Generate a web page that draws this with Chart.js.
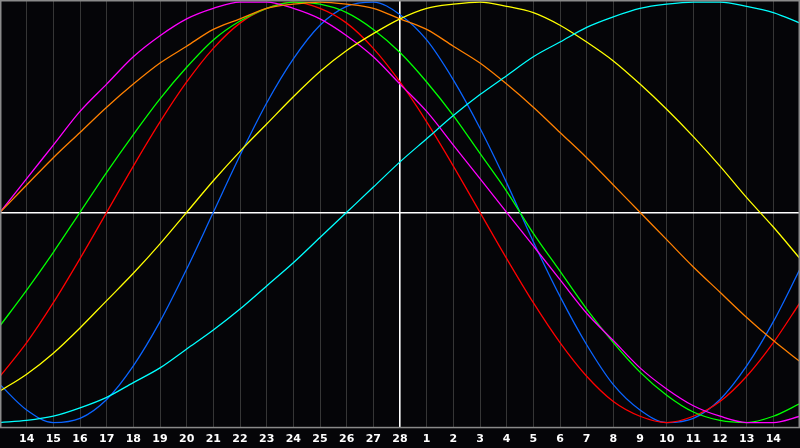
<!DOCTYPE html>
<html lang="pt-BR">
<head>
    <meta charset="UTF-8">
    <title>Biorritmo</title>
    <script src="https://cdn.jsdelivr.net/npm/chart.js"></script>
    <style>
        body {
            margin: 0;
            padding: 0;
            background: #050508;
        }

        .grafico-container {
            width: 800px;
            height: 448px;
        }
    </style>
</head>
<body>
    <div class="grafico-container">
        <canvas id="grafico"></canvas>
    </div>

    <script>
        // dias no eixo X (o primeiro e o último ficam sem rótulo)
        const dias = ['13', '14', '15', '16', '17', '18', '19', '20', '21', '22', '23', '24', '25', '26', '27', '28',
                      '1', '2', '3', '4', '5', '6', '7', '8', '9', '10', '11', '12', '13', '14', '15'];
        const indiceHoje = 15;

        const fisico = [-0.82, -0.94, -1.00, -0.98, -0.89, -0.73, -0.52, -0.27, 0.00, 0.27, 0.52, 0.73, 0.89, 0.98, 1.00, 0.94,
                        0.82, 0.63, 0.40, 0.14, -0.14, -0.40, -0.63, -0.82, -0.94, -1.00, -0.98, -0.89, -0.73, -0.52, -0.27];
        const emocional = [-0.78, -0.62, -0.43, -0.22, 0.00, 0.22, 0.43, 0.62, 0.78, 0.90, 0.97, 1.00, 0.97, 0.90, 0.78, 0.62,
                           0.43, 0.22, 0.00, -0.22, -0.43, -0.62, -0.78, -0.90, -0.97, -1.00, -0.97, -0.90, -0.78, -0.62, -0.43];
        const intelectual = [-0.54, -0.37, -0.19, 0.00, 0.19, 0.37, 0.54, 0.69, 0.82, 0.91, 0.97, 1.00, 0.99, 0.95, 0.87, 0.76,
                             0.62, 0.46, 0.28, 0.10, -0.10, -0.28, -0.46, -0.62, -0.76, -0.87, -0.95, -0.99, -1.00, -0.97, -0.91];
        const intuitivo = [0.00, 0.16, 0.32, 0.48, 0.61, 0.74, 0.84, 0.92, 0.97, 1.00, 1.00, 0.97, 0.92, 0.84, 0.74, 0.61,
                           0.48, 0.32, 0.16, 0.00, -0.16, -0.32, -0.48, -0.61, -0.74, -0.84, -0.92, -0.97, -1.00, -1.00, -0.97];
        const consciencia = [0.00, 0.13, 0.26, 0.38, 0.50, 0.61, 0.71, 0.79, 0.87, 0.92, 0.97, 0.99, 1.00, 0.99, 0.97, 0.92,
                             0.87, 0.79, 0.71, 0.61, 0.50, 0.38, 0.26, 0.13, 0.00, -0.13, -0.26, -0.38, -0.50, -0.61, -0.71];
        const estetico = [-0.85, -0.77, -0.67, -0.55, -0.42, -0.29, -0.15, 0.00, 0.15, 0.29, 0.42, 0.55, 0.67, 0.77, 0.85, 0.92,
                          0.97, 0.99, 1.00, 0.98, 0.95, 0.89, 0.81, 0.72, 0.61, 0.49, 0.36, 0.22, 0.07, -0.07, -0.22];
        const espiritual = [-1.00, -0.99, -0.97, -0.93, -0.88, -0.81, -0.74, -0.65, -0.56, -0.46, -0.35, -0.24, -0.12, 0.00, 0.12, 0.24,
                            0.35, 0.46, 0.56, 0.65, 0.74, 0.81, 0.88, 0.93, 0.97, 0.99, 1.00, 1.00, 0.98, 0.95, 0.90];

        const series = [
            { label: 'Espiritual', data: espiritual, cor: '#00ffff' },
            { label: 'Estético', data: estetico, cor: '#ffff00' },
            { label: 'Consciência', data: consciencia, cor: '#ff8000' },
            { label: 'Intuitivo', data: intuitivo, cor: '#ff00ff' },
            { label: 'Intelectual', data: intelectual, cor: '#00ff00' },
            { label: 'Emocional', data: emocional, cor: '#ff0000' },
            { label: 'Físico', data: fisico, cor: '#0a64ff' }
        ];

        const datasets = series.map(s => ({
            label: s.label,
            data: s.data,
            borderColor: s.cor,
            borderWidth: 1.3,
            pointRadius: 0,
            pointHoverRadius: 0,
            cubicInterpolationMode: 'monotone',
            fill: false
        }));

        // moldura cinza em volta da área do gráfico
        const moldura = {
            id: 'moldura',
            afterDraw(chart) {
                const { ctx, chartArea: a } = chart;
                ctx.save();
                ctx.strokeStyle = '#8a8a8a';
                ctx.lineWidth = 1.5;
                ctx.strokeRect(a.left + 0.75, a.top + 0.75, a.right - a.left - 1.5, a.bottom - a.top - 1);
                ctx.restore();
            }
        };

        const ctx = document.getElementById('grafico').getContext('2d');
        new Chart(ctx, {
            type: 'line',
            data: { labels: dias, datasets },
            plugins: [moldura],
            options: {
                responsive: true,
                maintainAspectRatio: false,
                animation: false,
                layout: { autoPadding: false, padding: { top: 0, left: 0, right: 0, bottom: 2 } },
                plugins: {
                    legend: { display: false },
                    tooltip: { enabled: false }
                },
                scales: {
                    x: {
                        offset: false,
                        grid: {
                            drawTicks: true,
                            tickLength: 5,
                            tickColor: 'transparent',
                            lineWidth: c => (c.index === indiceHoje ? 1.6 : 1),
                            color: c => {
                                if (c.index === 0 || c.index === dias.length - 1) return 'transparent';
                                return c.index === indiceHoje ? '#ffffff' : '#363636';
                            }
                        },
                        border: { display: false },
                        ticks: {
                            autoSkip: false,
                            maxRotation: 0,
                            padding: 0,
                            color: '#ffffff',
                            font: { family: 'DejaVu Sans', size: 11, weight: 'bold' },
                            callback: (v, i) => (i === 0 || i === dias.length - 1 ? '' : dias[i])
                        }
                    },
                    y: {
                        min: -1.025,
                        max: 1.01,
                        grid: {
                            drawTicks: false,
                            lineWidth: 1.6,
                            color: c => (c.tick.value === 0 ? '#ffffff' : 'transparent')
                        },
                        border: { display: false },
                        ticks: { display: false, stepSize: 1, padding: 0 }
                    }
                }
            }
        });
    </script>
</body>
</html>
